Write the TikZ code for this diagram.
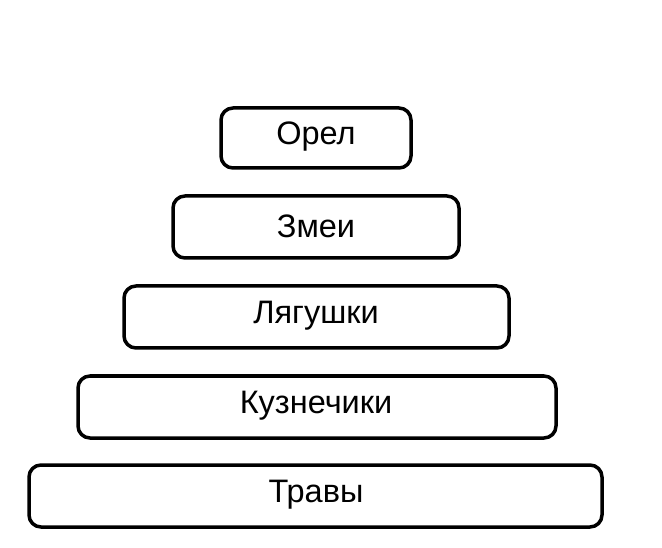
\documentclass[tikz,border=0pt]{standalone}
\usepackage{fontspec}
\setmainfont{Liberation Sans}
\begin{document}
\begin{tikzpicture}[x=1pt,y=-1pt,
  level/.style={draw=black,line width=3.5pt,rounded corners=12pt,fill=white},
  lbl/.style={font=\fontsize{32.5}{36}\selectfont}]
\useasboundingbox (0,0) rectangle (662,548);
\draw[level] (221,108) rectangle (411,168);
\draw[level] (173,196) rectangle (459,258);
\draw[level] (124,286) rectangle (509,348);
\draw[level] (78,376) rectangle (556,438);
\draw[level] (29,465) rectangle (602,527);
\node[lbl] (n1) at (316,137) {Орел};
\node[lbl] (n2) at (316,226) {Змеи};
\node[lbl] (n3) at (316,316) {Лягушки};
\node[lbl] (n4) at (316,406) {Кузнечики};
\node[lbl] (n5) at (316,495) {Травы};
\end{tikzpicture}
\end{document}
